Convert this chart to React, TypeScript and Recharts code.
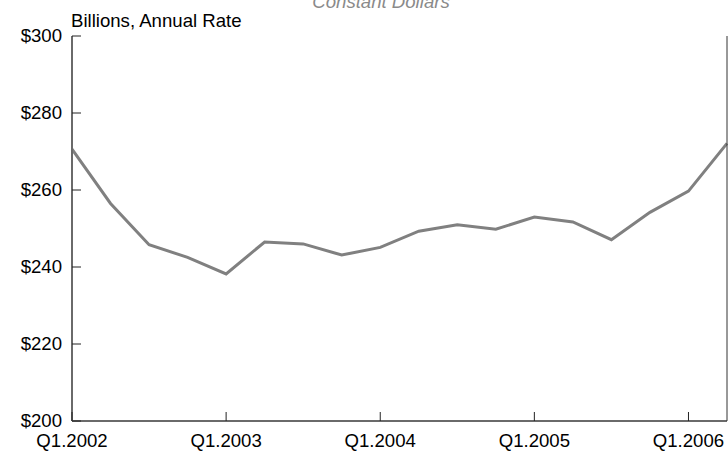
import React from "react";
import { LineChart, Line, XAxis, YAxis } from "recharts";

const quarters = [
  "Q1.2002", "Q2.2002", "Q3.2002", "Q4.2002",
  "Q1.2003", "Q2.2003", "Q3.2003", "Q4.2003",
  "Q1.2004", "Q2.2004", "Q3.2004", "Q4.2004",
  "Q1.2005", "Q2.2005", "Q3.2005", "Q4.2005",
  "Q1.2006", "Q2.2006",
];
const values = [
  270.6, 256.5, 245.8, 242.5,
  238.2, 246.5, 246.0, 243.1,
  245.1, 249.3, 251.0, 249.8,
  253.0, 251.7, 247.1, 254.2,
  259.7, 272.1,
];
const yTicks = [200, 220, 240, 260, 280, 300];
const title = "Constant Dollars";
const unitLabel = "Billions, Annual Rate";

const data = quarters.map((q, i) => ({ q, v: values[i] }));

const FONT = "'Liberation Sans', Arial, sans-serif";
const FS = 18.6;

const XTick = (props: any) => {
  const { x, y, payload } = props;
  return (
    <g>
      <line x1={x} y1={y} x2={x} y2={y - 9} stroke="#222" strokeWidth={1} />
      <text x={x} y={y + 26} textAnchor="middle" fontSize={FS} fontFamily={FONT} fill="#000">
        {payload.value}
      </text>
    </g>
  );
};

const YTick = (props: any) => {
  const { x, y, payload } = props;
  return (
    <g>
      <line x1={x} y1={y} x2={x + 9} y2={y} stroke="#222" strokeWidth={1} />
      <text x={x - 10} y={y + 6} textAnchor="end" fontSize={FS} fontFamily={FONT} fill="#000">
        ${payload.value}
      </text>
    </g>
  );
};

export default function App() {
  return (
    <div style={{ position: "absolute", left: 0, top: 0, width: 728, height: 453, background: "#fff" }}>
      <LineChart width={728} height={453} data={data} margin={{ top: 36, right: 0, bottom: 0, left: 0 }}>
        <XAxis
          dataKey="q"
          interval={3}
          tickSize={0}
          tickMargin={0}
          tick={<XTick />}
          axisLine={{ stroke: "#6a6a6a", strokeWidth: 2 }}
          tickLine={false}
          height={32}
        />
        <XAxis
          xAxisId="top"
          dataKey="q"
          orientation="top"
          height={0}
          tick={false}
          tickLine={false}
          axisLine={{ stroke: "#333", strokeWidth: 1 }}
        />
        <YAxis
          domain={[200, 300]}
          ticks={yTicks}
          width={72}
          tickSize={0}
          tickMargin={0}
          tick={<YTick />}
          tickLine={false}
          axisLine={{ stroke: "#6a6a6a", strokeWidth: 2 }}
          interval={0}
        />
        <YAxis
          yAxisId="right"
          orientation="right"
          domain={[200, 300]}
          width={1}
          tick={false}
          tickLine={false}
          axisLine={{ stroke: "#333", strokeWidth: 1 }}
        />
        <Line
          type="linear"
          dataKey="v"
          stroke="#808080"
          strokeWidth={3}
          dot={false}
          isAnimationActive={false}
        />
        <text x={381} y={8} textAnchor="middle" fontSize={FS} fontStyle="italic" fontFamily={FONT} fill="#8a8a8a">
          {title}
        </text>
        <text x={71} y={27} textAnchor="start" fontSize={FS} fontFamily={FONT} fill="#000">
          {unitLabel}
        </text>
      </LineChart>
    </div>
  );
}
